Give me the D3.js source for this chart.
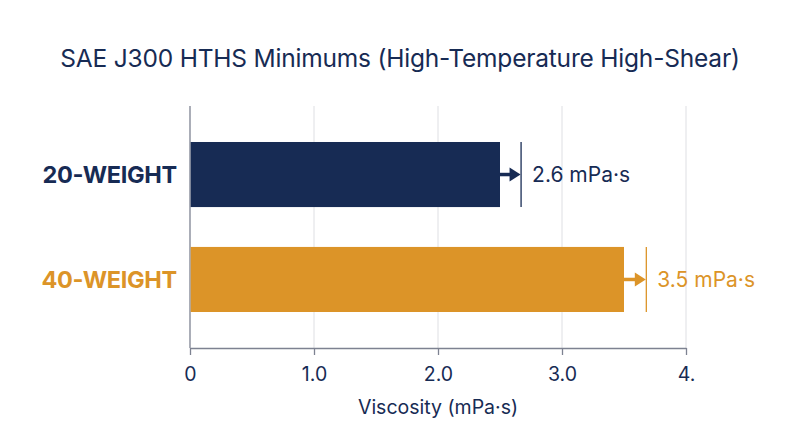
<!DOCTYPE html>
<html>
<head>
<meta charset="utf-8">
<script src="https://cdn.jsdelivr.net/npm/d3@7"></script>
<style>
  body { margin: 0; background: #fff; }
  text { font-family: Inter, "Liberation Sans", sans-serif; }
</style>
</head>
<body>
<svg id="chart"></svg>
<script>
const width = 800;
const height = 447;

// data
const categories = ["20-WEIGHT", "40-WEIGHT"];
const barValues = [2.5, 3.5];        // where the bars stop
const markerValues = [2.67, 3.68];   // the thin marker line each arrow points to
const labelValues = [2.6, 3.5];      // printed minimum
const colors = ["#172b54", "#dc9428"];
const tickValues = [0, 1, 2, 3, 4];
const tickLabels = ["0", "1.0", "2.0", "3.0", "4."];

const svg = d3.select("#chart")
    .attr("width", width)
    .attr("height", height);

const x = d3.scaleLinear()
    .domain([0, 4])
    .range([190, 686]);

const y = d3.scaleBand()
    .domain(categories)
    .range([106, 348])
    .paddingInner(0.38)
    .paddingOuter(0.343);

const rows = categories.map((c, i) => ({
    name: c,
    bar: barValues[i],
    marker: markerValues[i],
    label: labelValues[i],
    color: colors[i]
}));

// title
svg.append("text")
    .attr("x", 400)
    .attr("y", 67)
    .attr("text-anchor", "middle")
    .attr("font-size", 24.5)
    .attr("letter-spacing", -0.2)
    .attr("fill", "#172b54")
    .text("SAE J300 HTHS Minimums (High-Temperature High-Shear)");

// grid
svg.append("g")
    .selectAll("line")
    .data(tickValues.slice(1))
    .join("line")
    .attr("x1", d => x(d))
    .attr("x2", d => x(d))
    .attr("y1", 106)
    .attr("y2", 348)
    .attr("stroke", "#dedfe3")
    .attr("stroke-width", 1);

// bottom axis
const xAxis = svg.append("g")
    .attr("transform", "translate(0,348)")
    .call(d3.axisBottom(x)
        .tickValues(tickValues)
        .tickFormat((d, i) => tickLabels[i])
        .tickSize(7)
        .tickSizeOuter(0));
xAxis.select(".domain").attr("stroke", "#7d8291").attr("stroke-width", 1.3);
xAxis.selectAll(".tick line").attr("stroke", "#7d8291").attr("stroke-width", 1.3);
xAxis.selectAll(".tick text")
    .attr("y", 19)
    .attr("font-size", 19.5)
    .attr("font-family", "Inter, 'Liberation Sans', sans-serif")
    .attr("fill", "#172b54");

// left axis line
svg.append("line")
    .attr("x1", x(0))
    .attr("x2", x(0))
    .attr("y1", 106)
    .attr("y2", 348)
    .attr("stroke", "#7d8291")
    .attr("stroke-width", 1.3);

svg.append("text")
    .attr("x", 438)
    .attr("y", 414)
    .attr("text-anchor", "middle")
    .attr("font-size", 19.5)
    .attr("fill", "#172b54")
    .text("Viscosity (mPa·s)");

// bars
const rowG = svg.append("g")
    .selectAll("g")
    .data(rows)
    .join("g");

rowG.append("rect")
    .attr("x", x(0) + 0.7)
    .attr("y", d => y(d.name))
    .attr("width", d => x(d.bar) - x(0) - 0.7)
    .attr("height", y.bandwidth())
    .attr("fill", d => d.color);

// category labels
rowG.append("text")
    .attr("x", 177)
    .attr("y", d => y(d.name) + y.bandwidth() / 2)
    .attr("dy", "0.36em")
    .attr("text-anchor", "end")
    .attr("font-size", 23.5)
    .attr("font-weight", 700)
    .attr("letter-spacing", -0.3)
    .attr("fill", d => d.color)
    .text(d => d.name);

// marker line
rowG.append("line")
    .attr("x1", d => x(d.marker))
    .attr("x2", d => x(d.marker))
    .attr("y1", d => y(d.name))
    .attr("y2", d => y(d.name) + y.bandwidth())
    .attr("stroke", d => d.color)
    .attr("stroke-width", 1.3);

// arrow from bar end to marker
rowG.append("line")
    .attr("x1", d => x(d.bar))
    .attr("x2", d => x(d.marker) - 8)
    .attr("y1", d => y(d.name) + y.bandwidth() / 2)
    .attr("y2", d => y(d.name) + y.bandwidth() / 2)
    .attr("stroke", d => d.color)
    .attr("stroke-width", 3.5);

rowG.append("path")
    .attr("d", d => {
        const tip = x(d.marker) - 0.5;
        const cy = y(d.name) + y.bandwidth() / 2;
        return `M${tip},${cy} L${tip - 11},${cy - 7} L${tip - 11},${cy + 7} Z`;
    })
    .attr("fill", d => d.color);

// value labels
rowG.append("text")
    .attr("x", d => x(d.marker) + 11)
    .attr("y", d => y(d.name) + y.bandwidth() / 2)
    .attr("dy", "0.36em")
    .attr("font-size", 21)
    .attr("fill", d => d.color)
    .text(d => d3.format(".1f")(d.label) + " mPa·s");
</script>
</body>
</html>
